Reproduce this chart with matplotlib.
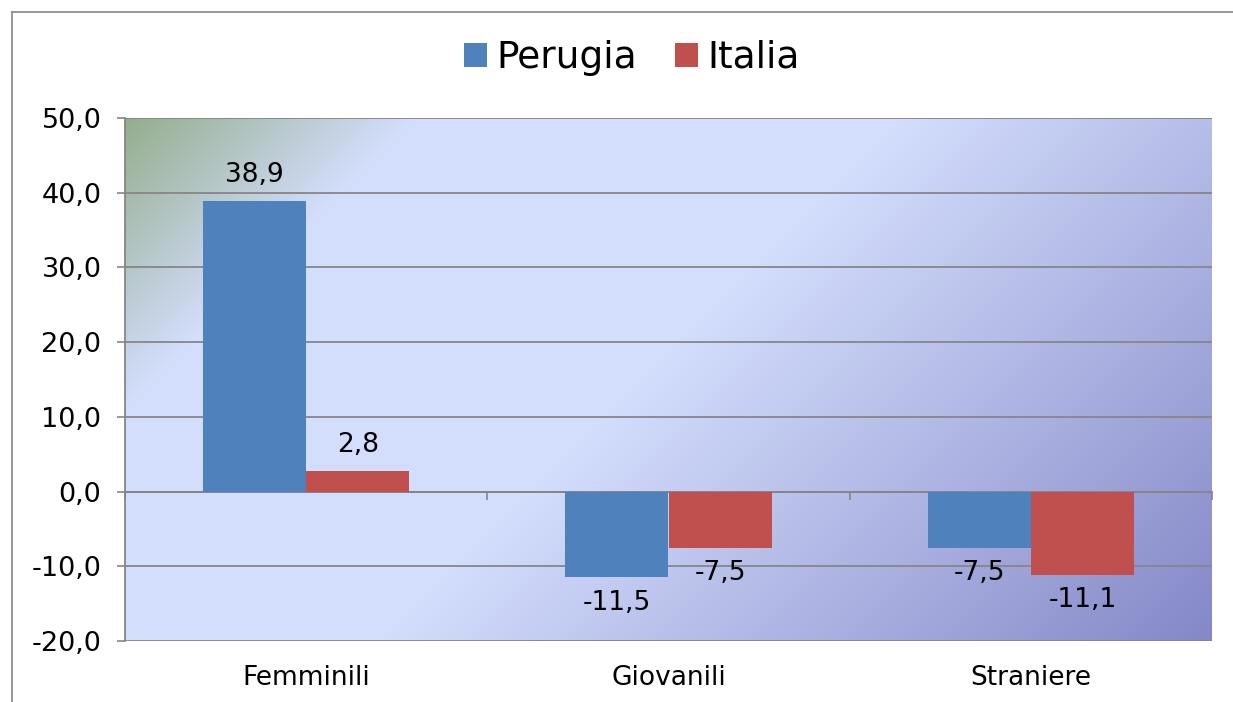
import matplotlib
matplotlib.use("Agg")
import matplotlib.pyplot as plt
from matplotlib.lines import Line2D
from matplotlib.patches import Patch
import numpy as np

# dati
categorie = ["Femminili", "Giovanili", "Straniere"]
perugia = [38.9, -11.5, -7.5]
italia = [2.8, -7.5, -11.1]
serie = ["Perugia", "Italia"]
colori = ["#4f81bd", "#c0504d"]
yticks = [-20, -10, 0, 10, 20, 30, 40, 50]

W, H, DPI = 1233, 702, 100
fig = plt.figure(figsize=(W / DPI, H / DPI), dpi=DPI)
fig.patch.set_facecolor("white")

# cornice esterna del grafico
fig.add_artist(Line2D([12 / W, 12 / W], [0, 1 - 12 / H], transform=fig.transFigure,
                      color="#868686", lw=1.2))
fig.add_artist(Line2D([12 / W, 1], [1 - 12 / H, 1 - 12 / H], transform=fig.transFigure,
                      color="#868686", lw=1.2))

x0, x1, y0, y1 = 125, 1212, 118, 641
ax = fig.add_axes([x0 / W, 1 - y1 / H, (x1 - x0) / W, (y1 - y0) / H])

# sfondo sfumato (diagonale: verde -> azzurro -> blu-viola)
pw, ph = x1 - x0, y1 - y0
xx, yy = np.meshgrid(np.arange(pw), np.arange(ph))
s = (xx + yy) / (pw + ph)
stops = [0.0, 0.18, 0.48, 1.0]
c_stops = np.array([[0.58, 0.68, 0.55],
                    [0.83, 0.87, 0.99],
                    [0.83, 0.87, 0.99],
                    [0.52, 0.53, 0.78]])
img = np.stack([np.interp(s, stops, c_stops[:, k]) for k in range(3)], axis=-1)
ax.imshow(img, extent=[0, 1, 0, 1], transform=ax.transAxes, aspect="auto", zorder=0)

n = len(categorie)
x = np.arange(n)
w = 0.285
ax.set_xlim(-0.5, n - 0.5)
ax.set_ylim(-20, 50)

for i, (vals, col) in enumerate(zip([perugia, italia], colori)):
    pos = x + (i - 0.5) * w
    ax.bar(pos, vals, width=w, color=col, zorder=3)
    for xp, v in zip(pos, vals):
        lab = f"{v:.1f}".replace(".", ",")
        off = 9 if v >= 0 else -9
        ax.annotate(lab, (xp, v), xytext=(0, off), textcoords="offset points",
                    ha="center", va="bottom" if v >= 0 else "top", fontsize=19, zorder=4)

# griglia e assi
ax.set_yticks(yticks)
ax.set_yticklabels([f"{t:.1f}".replace(".", ",") for t in yticks], fontsize=19.5)
ax.yaxis.grid(True, color="#868686", lw=1.3, zorder=1)
ax.tick_params(axis="y", length=6, width=1.2, color="#868686", pad=11)
for sp in ["top", "right"]:
    ax.spines[sp].set_visible(False)
ax.spines["left"].set_color("#868686")
ax.spines["left"].set_linewidth(1.3)
ax.spines["bottom"].set_position(("data", 0))
ax.spines["bottom"].set_color("#868686")
ax.spines["bottom"].set_linewidth(1.3)
ax.set_xticks(x)
ax.set_xticklabels([])
ax.tick_params(axis="x", which="major", length=0)
ax.set_xticks(np.arange(n + 1) - 0.5, minor=True)
ax.tick_params(axis="x", which="minor", length=6, width=1.2, color="#868686", direction="out")
for xi, c in zip(x, categorie):
    ax.annotate(c, (xi, 0), xycoords=ax.get_xaxis_transform(), xytext=(0, -17),
                textcoords="offset points", ha="center", va="top", fontsize=19)

handles = [Patch(facecolor=c, edgecolor="none") for c in colori]
fig.legend(handles, serie, loc="center", bbox_to_anchor=(632 / W, 1 - 58 / H), ncol=2,
           frameon=False, fontsize=27, handlelength=0.62, handleheight=0.62,
           handletextpad=0.25, columnspacing=1.0)

fig.savefig("out.png", dpi=DPI)
